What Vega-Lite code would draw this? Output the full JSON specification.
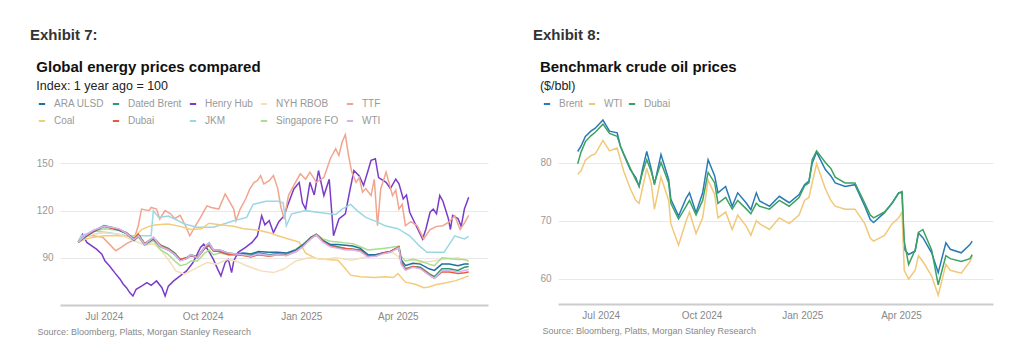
{
"$schema":"https://vega.github.io/schema/vega-lite/v6.json",
"background":"white",
"padding":{"left":30,"top":28,"right":5,"bottom":5},
"config":{"font":"Liberation Sans","view":{"stroke":null}},
"resolve":{"scale":{"color":"independent","x":"independent","y":"independent"},"legend":{"color":"independent"},"axis":{"x":"independent","y":"independent"}},
"datasets":{
"left":[
{"d":"2024-06-07","s":"Henry Hub","v":100},{"d":"2024-06-11","s":"Henry Hub","v":105},{"d":"2024-06-15","s":"Henry Hub","v":99.8},{"d":"2024-06-24","s":"Henry Hub","v":95.5},{"d":"2024-06-29","s":"Henry Hub","v":92.3},{"d":"2024-07-02","s":"Henry Hub","v":88},{"d":"2024-07-06","s":"Henry Hub","v":85},{"d":"2024-07-11","s":"Henry Hub","v":80.6},{"d":"2024-07-16","s":"Henry Hub","v":76.4},{"d":"2024-07-19","s":"Henry Hub","v":73.2},{"d":"2024-07-22","s":"Henry Hub","v":71},{"d":"2024-07-25","s":"Henry Hub","v":67.9},{"d":"2024-07-28","s":"Henry Hub","v":65.7},{"d":"2024-07-31","s":"Henry Hub","v":70},{"d":"2024-08-05","s":"Henry Hub","v":72},{"d":"2024-08-10","s":"Henry Hub","v":74.2},{"d":"2024-08-14","s":"Henry Hub","v":72.5},{"d":"2024-08-19","s":"Henry Hub","v":75.3},{"d":"2024-08-24","s":"Henry Hub","v":71},{"d":"2024-08-27","s":"Henry Hub","v":65.7},{"d":"2024-08-30","s":"Henry Hub","v":72},{"d":"2024-09-04","s":"Henry Hub","v":75.3},{"d":"2024-09-10","s":"Henry Hub","v":78.5},{"d":"2024-09-16","s":"Henry Hub","v":81.7},{"d":"2024-09-22","s":"Henry Hub","v":87},{"d":"2024-09-29","s":"Henry Hub","v":96.6},{"d":"2024-10-02","s":"Henry Hub","v":98.7},{"d":"2024-10-06","s":"Henry Hub","v":95},{"d":"2024-10-11","s":"Henry Hub","v":89},{"d":"2024-10-15","s":"Henry Hub","v":82.8},{"d":"2024-10-18","s":"Henry Hub","v":78.5},{"d":"2024-10-22","s":"Henry Hub","v":87},{"d":"2024-10-25","s":"Henry Hub","v":89},{"d":"2024-10-28","s":"Henry Hub","v":80.6},{"d":"2024-10-30","s":"Henry Hub","v":88},{"d":"2024-11-03","s":"Henry Hub","v":93.5},{"d":"2024-11-10","s":"Henry Hub","v":96.6},{"d":"2024-11-16","s":"Henry Hub","v":99.8},{"d":"2024-11-21","s":"Henry Hub","v":104},{"d":"2024-11-25","s":"Henry Hub","v":116.8},{"d":"2024-11-28","s":"Henry Hub","v":111},{"d":"2024-12-02","s":"Henry Hub","v":113.6},{"d":"2024-12-06","s":"Henry Hub","v":106},{"d":"2024-12-11","s":"Henry Hub","v":113},{"d":"2024-12-16","s":"Henry Hub","v":116.8},{"d":"2024-12-19","s":"Henry Hub","v":123},{"d":"2024-12-25","s":"Henry Hub","v":133.8},{"d":"2024-12-30","s":"Henry Hub","v":137.9},{"d":"2025-01-02","s":"Henry Hub","v":125},{"d":"2025-01-05","s":"Henry Hub","v":121},{"d":"2025-01-09","s":"Henry Hub","v":138},{"d":"2025-01-13","s":"Henry Hub","v":130},{"d":"2025-01-17","s":"Henry Hub","v":145.5},{"d":"2025-01-22","s":"Henry Hub","v":129.6},{"d":"2025-01-27","s":"Henry Hub","v":140},{"d":"2025-01-31","s":"Henry Hub","v":104},{"d":"2025-02-05","s":"Henry Hub","v":114.7},{"d":"2025-02-11","s":"Henry Hub","v":118},{"d":"2025-02-15","s":"Henry Hub","v":132},{"d":"2025-02-19","s":"Henry Hub","v":145.5},{"d":"2025-02-24","s":"Henry Hub","v":142},{"d":"2025-02-28","s":"Henry Hub","v":136},{"d":"2025-03-04","s":"Henry Hub","v":145},{"d":"2025-03-07","s":"Henry Hub","v":152},{"d":"2025-03-11","s":"Henry Hub","v":153},{"d":"2025-03-14","s":"Henry Hub","v":141},{"d":"2025-03-21","s":"Henry Hub","v":138},{"d":"2025-03-25","s":"Henry Hub","v":134},{"d":"2025-03-30","s":"Henry Hub","v":140},{"d":"2025-04-02","s":"Henry Hub","v":137},{"d":"2025-04-06","s":"Henry Hub","v":127.4},{"d":"2025-04-09","s":"Henry Hub","v":130},{"d":"2025-04-12","s":"Henry Hub","v":119},{"d":"2025-04-18","s":"Henry Hub","v":110.4},{"d":"2025-04-24","s":"Henry Hub","v":102},{"d":"2025-04-27","s":"Henry Hub","v":108},{"d":"2025-05-01","s":"Henry Hub","v":119},{"d":"2025-05-04","s":"Henry Hub","v":121},{"d":"2025-05-07","s":"Henry Hub","v":118},{"d":"2025-05-10","s":"Henry Hub","v":129.6},{"d":"2025-05-13","s":"Henry Hub","v":126},{"d":"2025-05-18","s":"Henry Hub","v":115},{"d":"2025-05-20","s":"Henry Hub","v":108},{"d":"2025-05-22","s":"Henry Hub","v":117},{"d":"2025-05-27","s":"Henry Hub","v":115},{"d":"2025-05-30","s":"Henry Hub","v":110},{"d":"2025-06-02","s":"Henry Hub","v":121},{"d":"2025-06-06","s":"Henry Hub","v":128.5},
{"d":"2024-06-07","s":"TTF","v":100},{"d":"2024-06-10","s":"TTF","v":104},{"d":"2024-06-21","s":"TTF","v":104},{"d":"2024-06-30","s":"TTF","v":103},{"d":"2024-07-06","s":"TTF","v":98.7},{"d":"2024-07-12","s":"TTF","v":94.5},{"d":"2024-07-17","s":"TTF","v":96.6},{"d":"2024-07-22","s":"TTF","v":99},{"d":"2024-07-27","s":"TTF","v":100.8},{"d":"2024-07-30","s":"TTF","v":104},{"d":"2024-08-02","s":"TTF","v":110.4},{"d":"2024-08-05","s":"TTF","v":121},{"d":"2024-08-12","s":"TTF","v":120},{"d":"2024-08-14","s":"TTF","v":122},{"d":"2024-08-19","s":"TTF","v":121},{"d":"2024-08-22","s":"TTF","v":114.7},{"d":"2024-08-27","s":"TTF","v":120},{"d":"2024-09-01","s":"TTF","v":118},{"d":"2024-09-05","s":"TTF","v":115},{"d":"2024-09-10","s":"TTF","v":117},{"d":"2024-09-15","s":"TTF","v":110.4},{"d":"2024-09-19","s":"TTF","v":104},{"d":"2024-09-24","s":"TTF","v":110},{"d":"2024-09-29","s":"TTF","v":115.7},{"d":"2024-10-05","s":"TTF","v":123},{"d":"2024-10-09","s":"TTF","v":122},{"d":"2024-10-16","s":"TTF","v":121},{"d":"2024-10-22","s":"TTF","v":130.6},{"d":"2024-10-25","s":"TTF","v":127},{"d":"2024-10-30","s":"TTF","v":121},{"d":"2024-11-01","s":"TTF","v":113.6},{"d":"2024-11-05","s":"TTF","v":121},{"d":"2024-11-10","s":"TTF","v":127.4},{"d":"2024-11-14","s":"TTF","v":133.8},{"d":"2024-11-18","s":"TTF","v":138},{"d":"2024-11-21","s":"TTF","v":139},{"d":"2024-11-24","s":"TTF","v":142.3},{"d":"2024-11-27","s":"TTF","v":137},{"d":"2024-12-02","s":"TTF","v":139},{"d":"2024-12-06","s":"TTF","v":142.3},{"d":"2024-12-10","s":"TTF","v":134},{"d":"2024-12-13","s":"TTF","v":122},{"d":"2024-12-16","s":"TTF","v":114.7},{"d":"2024-12-20","s":"TTF","v":129.6},{"d":"2024-12-25","s":"TTF","v":136},{"d":"2024-12-31","s":"TTF","v":143.4},{"d":"2025-01-05","s":"TTF","v":140},{"d":"2025-01-09","s":"TTF","v":144.5},{"d":"2025-01-15","s":"TTF","v":138},{"d":"2025-01-22","s":"TTF","v":141},{"d":"2025-01-28","s":"TTF","v":153},{"d":"2025-02-02","s":"TTF","v":159.4},{"d":"2025-02-05","s":"TTF","v":155},{"d":"2025-02-08","s":"TTF","v":163.6},{"d":"2025-02-11","s":"TTF","v":168.3},{"d":"2025-02-14","s":"TTF","v":155},{"d":"2025-02-17","s":"TTF","v":144.5},{"d":"2025-02-21","s":"TTF","v":138},{"d":"2025-02-24","s":"TTF","v":141},{"d":"2025-02-27","s":"TTF","v":131.7},{"d":"2025-03-02","s":"TTF","v":134},{"d":"2025-03-07","s":"TTF","v":129.6},{"d":"2025-03-10","s":"TTF","v":140},{"d":"2025-03-13","s":"TTF","v":110.4},{"d":"2025-03-16","s":"TTF","v":133.8},{"d":"2025-03-21","s":"TTF","v":144.5},{"d":"2025-03-24","s":"TTF","v":137},{"d":"2025-03-27","s":"TTF","v":129.6},{"d":"2025-03-30","s":"TTF","v":133},{"d":"2025-04-02","s":"TTF","v":121},{"d":"2025-04-05","s":"TTF","v":124},{"d":"2025-04-08","s":"TTF","v":110.4},{"d":"2025-04-13","s":"TTF","v":113},{"d":"2025-04-19","s":"TTF","v":110.4},{"d":"2025-04-25","s":"TTF","v":102},{"d":"2025-05-01","s":"TTF","v":108},{"d":"2025-05-07","s":"TTF","v":110},{"d":"2025-05-13","s":"TTF","v":110.4},{"d":"2025-05-19","s":"TTF","v":113},{"d":"2025-05-24","s":"TTF","v":116.8},{"d":"2025-05-29","s":"TTF","v":108},{"d":"2025-06-02","s":"TTF","v":112},{"d":"2025-06-06","s":"TTF","v":117},
{"d":"2024-06-07","s":"JKM","v":100},{"d":"2024-06-10","s":"JKM","v":104},{"d":"2024-06-21","s":"JKM","v":107},{"d":"2024-07-06","s":"JKM","v":106},{"d":"2024-07-22","s":"JKM","v":104},{"d":"2024-08-08","s":"JKM","v":104},{"d":"2024-08-14","s":"JKM","v":104},{"d":"2024-08-16","s":"JKM","v":120},{"d":"2024-08-21","s":"JKM","v":115.7},{"d":"2024-08-30","s":"JKM","v":116.5},{"d":"2024-09-05","s":"JKM","v":114.7},{"d":"2024-09-14","s":"JKM","v":111.5},{"d":"2024-09-26","s":"JKM","v":109.4},{"d":"2024-10-11","s":"JKM","v":109.5},{"d":"2024-10-30","s":"JKM","v":113.6},{"d":"2024-11-11","s":"JKM","v":115.7},{"d":"2024-11-17","s":"JKM","v":124},{"d":"2024-11-29","s":"JKM","v":126},{"d":"2024-12-10","s":"JKM","v":126},{"d":"2024-12-15","s":"JKM","v":125},{"d":"2024-12-18","s":"JKM","v":110.4},{"d":"2024-12-23","s":"JKM","v":118},{"d":"2025-01-05","s":"JKM","v":120},{"d":"2025-01-21","s":"JKM","v":118.5},{"d":"2025-02-02","s":"JKM","v":117.5},{"d":"2025-02-08","s":"JKM","v":121},{"d":"2025-02-16","s":"JKM","v":124},{"d":"2025-02-22","s":"JKM","v":120},{"d":"2025-03-02","s":"JKM","v":115.7},{"d":"2025-03-12","s":"JKM","v":113},{"d":"2025-03-20","s":"JKM","v":110.4},{"d":"2025-04-01","s":"JKM","v":108.5},{"d":"2025-04-12","s":"JKM","v":104},{"d":"2025-04-21","s":"JKM","v":97.6},{"d":"2025-04-28","s":"JKM","v":93.5},{"d":"2025-05-14","s":"JKM","v":93.5},{"d":"2025-05-19","s":"JKM","v":98.7},{"d":"2025-05-24","s":"JKM","v":104},{"d":"2025-06-02","s":"JKM","v":102},{"d":"2025-06-06","s":"JKM","v":103.7},
{"d":"2024-06-07","s":"Coal","v":100},{"d":"2024-06-14","s":"Coal","v":102},{"d":"2024-06-21","s":"Coal","v":103},{"d":"2024-07-01","s":"Coal","v":104},{"d":"2024-07-15","s":"Coal","v":104},{"d":"2024-07-29","s":"Coal","v":103},{"d":"2024-08-05","s":"Coal","v":108},{"d":"2024-08-12","s":"Coal","v":110},{"d":"2024-08-19","s":"Coal","v":111},{"d":"2024-08-30","s":"Coal","v":111.5},{"d":"2024-09-10","s":"Coal","v":110},{"d":"2024-09-20","s":"Coal","v":108},{"d":"2024-09-30","s":"Coal","v":108.5},{"d":"2024-10-07","s":"Coal","v":112},{"d":"2024-10-17","s":"Coal","v":111},{"d":"2024-10-30","s":"Coal","v":110},{"d":"2024-11-08","s":"Coal","v":108.5},{"d":"2024-11-22","s":"Coal","v":107.5},{"d":"2024-12-02","s":"Coal","v":106},{"d":"2024-12-10","s":"Coal","v":104},{"d":"2024-12-20","s":"Coal","v":102},{"d":"2024-12-30","s":"Coal","v":100},{"d":"2025-01-05","s":"Coal","v":93},{"d":"2025-01-15","s":"Coal","v":89.5},{"d":"2025-01-25","s":"Coal","v":89},{"d":"2025-02-04","s":"Coal","v":88.5},{"d":"2025-02-10","s":"Coal","v":84},{"d":"2025-02-16","s":"Coal","v":79},{"d":"2025-02-25","s":"Coal","v":78},{"d":"2025-03-10","s":"Coal","v":77.5},{"d":"2025-03-20","s":"Coal","v":78},{"d":"2025-03-28","s":"Coal","v":77.5},{"d":"2025-04-01","s":"Coal","v":80},{"d":"2025-04-08","s":"Coal","v":74.5},{"d":"2025-04-18","s":"Coal","v":73},{"d":"2025-04-25","s":"Coal","v":71},{"d":"2025-04-30","s":"Coal","v":71.5},{"d":"2025-05-07","s":"Coal","v":73},{"d":"2025-05-15","s":"Coal","v":74},{"d":"2025-05-25","s":"Coal","v":75.5},{"d":"2025-06-06","s":"Coal","v":78.5},
{"d":"2024-06-07","s":"NYH RBOB","v":100},{"d":"2024-06-14","s":"NYH RBOB","v":103},{"d":"2024-06-21","s":"NYH RBOB","v":105},{"d":"2024-07-01","s":"NYH RBOB","v":106},{"d":"2024-07-15","s":"NYH RBOB","v":105},{"d":"2024-07-29","s":"NYH RBOB","v":101},{"d":"2024-08-08","s":"NYH RBOB","v":98},{"d":"2024-08-16","s":"NYH RBOB","v":99},{"d":"2024-08-23","s":"NYH RBOB","v":95},{"d":"2024-09-01","s":"NYH RBOB","v":87},{"d":"2024-09-06","s":"NYH RBOB","v":81.7},{"d":"2024-09-14","s":"NYH RBOB","v":79.6},{"d":"2024-09-23","s":"NYH RBOB","v":82.8},{"d":"2024-10-05","s":"NYH RBOB","v":87},{"d":"2024-10-14","s":"NYH RBOB","v":86},{"d":"2024-10-24","s":"NYH RBOB","v":89},{"d":"2024-11-01","s":"NYH RBOB","v":88},{"d":"2024-11-11","s":"NYH RBOB","v":85},{"d":"2024-11-24","s":"NYH RBOB","v":81.7},{"d":"2024-12-06","s":"NYH RBOB","v":80.6},{"d":"2024-12-16","s":"NYH RBOB","v":83},{"d":"2024-12-27","s":"NYH RBOB","v":88},{"d":"2025-01-09","s":"NYH RBOB","v":90.2},{"d":"2025-01-21","s":"NYH RBOB","v":89},{"d":"2025-02-02","s":"NYH RBOB","v":90},{"d":"2025-02-17","s":"NYH RBOB","v":88.5},{"d":"2025-02-28","s":"NYH RBOB","v":90.2},{"d":"2025-03-14","s":"NYH RBOB","v":92.3},{"d":"2025-03-27","s":"NYH RBOB","v":93.4},{"d":"2025-04-01","s":"NYH RBOB","v":91},{"d":"2025-04-06","s":"NYH RBOB","v":85.5},{"d":"2025-04-18","s":"NYH RBOB","v":86.5},{"d":"2025-05-01","s":"NYH RBOB","v":87.6},{"d":"2025-05-12","s":"NYH RBOB","v":89},{"d":"2025-05-27","s":"NYH RBOB","v":90},{"d":"2025-06-06","s":"NYH RBOB","v":88},
{"d":"2024-06-07","s":"Singapore FO","v":100},{"d":"2024-06-14","s":"Singapore FO","v":103.5},{"d":"2024-06-21","s":"Singapore FO","v":106.5},{"d":"2024-07-01","s":"Singapore FO","v":108.5},{"d":"2024-07-08","s":"Singapore FO","v":108},{"d":"2024-07-15","s":"Singapore FO","v":107.5},{"d":"2024-07-22","s":"Singapore FO","v":105.5},{"d":"2024-07-29","s":"Singapore FO","v":101},{"d":"2024-08-02","s":"Singapore FO","v":103},{"d":"2024-08-08","s":"Singapore FO","v":98},{"d":"2024-08-16","s":"Singapore FO","v":101},{"d":"2024-08-23","s":"Singapore FO","v":95},{"d":"2024-08-30","s":"Singapore FO","v":92},{"d":"2024-09-05","s":"Singapore FO","v":88},{"d":"2024-09-10","s":"Singapore FO","v":85},{"d":"2024-09-16","s":"Singapore FO","v":86},{"d":"2024-09-20","s":"Singapore FO","v":88},{"d":"2024-09-26","s":"Singapore FO","v":88},{"d":"2024-10-03","s":"Singapore FO","v":93},{"d":"2024-10-07","s":"Singapore FO","v":95},{"d":"2024-10-11","s":"Singapore FO","v":92},{"d":"2024-10-17","s":"Singapore FO","v":93},{"d":"2024-10-25","s":"Singapore FO","v":92},{"d":"2024-11-01","s":"Singapore FO","v":92},{"d":"2024-11-08","s":"Singapore FO","v":92},{"d":"2024-11-15","s":"Singapore FO","v":91.5},{"d":"2024-11-22","s":"Singapore FO","v":93},{"d":"2024-12-02","s":"Singapore FO","v":92},{"d":"2024-12-10","s":"Singapore FO","v":93},{"d":"2024-12-18","s":"Singapore FO","v":93},{"d":"2024-12-27","s":"Singapore FO","v":95.5},{"d":"2025-01-03","s":"Singapore FO","v":99},{"d":"2025-01-10","s":"Singapore FO","v":103},{"d":"2025-01-15","s":"Singapore FO","v":105},{"d":"2025-01-21","s":"Singapore FO","v":102},{"d":"2025-01-28","s":"Singapore FO","v":100.5},{"d":"2025-02-04","s":"Singapore FO","v":100},{"d":"2025-02-11","s":"Singapore FO","v":99.5},{"d":"2025-02-18","s":"Singapore FO","v":99},{"d":"2025-02-25","s":"Singapore FO","v":97},{"d":"2025-03-04","s":"Singapore FO","v":95},{"d":"2025-03-11","s":"Singapore FO","v":95.5},{"d":"2025-03-18","s":"Singapore FO","v":96},{"d":"2025-03-25","s":"Singapore FO","v":96.5},{"d":"2025-04-02","s":"Singapore FO","v":97.5},{"d":"2025-04-04","s":"Singapore FO","v":91},{"d":"2025-04-08","s":"Singapore FO","v":88},{"d":"2025-04-15","s":"Singapore FO","v":89},{"d":"2025-04-22","s":"Singapore FO","v":88},{"d":"2025-04-30","s":"Singapore FO","v":86},{"d":"2025-05-05","s":"Singapore FO","v":85},{"d":"2025-05-12","s":"Singapore FO","v":90},{"d":"2025-05-19","s":"Singapore FO","v":89.5},{"d":"2025-05-27","s":"Singapore FO","v":89},{"d":"2025-06-02","s":"Singapore FO","v":89},{"d":"2025-06-06","s":"Singapore FO","v":88},
{"d":"2024-06-07","s":"Dated Brent","v":100},{"d":"2024-06-14","s":"Dated Brent","v":104},{"d":"2024-06-21","s":"Dated Brent","v":107},{"d":"2024-07-01","s":"Dated Brent","v":110.5},{"d":"2024-07-08","s":"Dated Brent","v":109.5},{"d":"2024-07-15","s":"Dated Brent","v":108},{"d":"2024-07-22","s":"Dated Brent","v":106},{"d":"2024-07-29","s":"Dated Brent","v":102},{"d":"2024-08-02","s":"Dated Brent","v":105},{"d":"2024-08-08","s":"Dated Brent","v":99},{"d":"2024-08-16","s":"Dated Brent","v":103},{"d":"2024-08-23","s":"Dated Brent","v":98},{"d":"2024-08-30","s":"Dated Brent","v":96},{"d":"2024-09-05","s":"Dated Brent","v":93},{"d":"2024-09-10","s":"Dated Brent","v":89},{"d":"2024-09-16","s":"Dated Brent","v":90},{"d":"2024-09-20","s":"Dated Brent","v":92},{"d":"2024-09-26","s":"Dated Brent","v":90.5},{"d":"2024-10-03","s":"Dated Brent","v":97},{"d":"2024-10-07","s":"Dated Brent","v":99.5},{"d":"2024-10-11","s":"Dated Brent","v":95},{"d":"2024-10-17","s":"Dated Brent","v":95},{"d":"2024-10-25","s":"Dated Brent","v":93},{"d":"2024-11-01","s":"Dated Brent","v":92.5},{"d":"2024-11-08","s":"Dated Brent","v":92},{"d":"2024-11-15","s":"Dated Brent","v":91.5},{"d":"2024-11-22","s":"Dated Brent","v":93},{"d":"2024-12-02","s":"Dated Brent","v":92},{"d":"2024-12-10","s":"Dated Brent","v":92.5},{"d":"2024-12-18","s":"Dated Brent","v":92},{"d":"2024-12-27","s":"Dated Brent","v":94.5},{"d":"2025-01-03","s":"Dated Brent","v":98},{"d":"2025-01-10","s":"Dated Brent","v":103},{"d":"2025-01-15","s":"Dated Brent","v":105},{"d":"2025-01-21","s":"Dated Brent","v":101},{"d":"2025-01-28","s":"Dated Brent","v":98},{"d":"2025-02-04","s":"Dated Brent","v":97},{"d":"2025-02-11","s":"Dated Brent","v":96},{"d":"2025-02-18","s":"Dated Brent","v":95.5},{"d":"2025-02-25","s":"Dated Brent","v":95},{"d":"2025-03-04","s":"Dated Brent","v":91},{"d":"2025-03-11","s":"Dated Brent","v":91.5},{"d":"2025-03-18","s":"Dated Brent","v":93},{"d":"2025-03-25","s":"Dated Brent","v":94},{"d":"2025-04-02","s":"Dated Brent","v":97},{"d":"2025-04-04","s":"Dated Brent","v":87},{"d":"2025-04-08","s":"Dated Brent","v":83},{"d":"2025-04-15","s":"Dated Brent","v":84.5},{"d":"2025-04-22","s":"Dated Brent","v":84},{"d":"2025-04-30","s":"Dated Brent","v":80},{"d":"2025-05-05","s":"Dated Brent","v":78},{"d":"2025-05-12","s":"Dated Brent","v":83},{"d":"2025-05-19","s":"Dated Brent","v":83},{"d":"2025-05-27","s":"Dated Brent","v":82},{"d":"2025-06-02","s":"Dated Brent","v":84},{"d":"2025-06-06","s":"Dated Brent","v":84.5},
{"d":"2024-06-07","s":"ARA ULSD","v":100},{"d":"2024-06-14","s":"ARA ULSD","v":103.5},{"d":"2024-06-21","s":"ARA ULSD","v":106.5},{"d":"2024-07-01","s":"ARA ULSD","v":110},{"d":"2024-07-08","s":"ARA ULSD","v":109},{"d":"2024-07-15","s":"ARA ULSD","v":107.5},{"d":"2024-07-22","s":"ARA ULSD","v":105.5},{"d":"2024-07-29","s":"ARA ULSD","v":101},{"d":"2024-08-02","s":"ARA ULSD","v":104},{"d":"2024-08-08","s":"ARA ULSD","v":98.5},{"d":"2024-08-16","s":"ARA ULSD","v":102},{"d":"2024-08-23","s":"ARA ULSD","v":97},{"d":"2024-08-30","s":"ARA ULSD","v":95},{"d":"2024-09-05","s":"ARA ULSD","v":92},{"d":"2024-09-10","s":"ARA ULSD","v":88.5},{"d":"2024-09-16","s":"ARA ULSD","v":89.5},{"d":"2024-09-20","s":"ARA ULSD","v":91.5},{"d":"2024-09-26","s":"ARA ULSD","v":90},{"d":"2024-10-03","s":"ARA ULSD","v":96},{"d":"2024-10-07","s":"ARA ULSD","v":98},{"d":"2024-10-11","s":"ARA ULSD","v":94.5},{"d":"2024-10-17","s":"ARA ULSD","v":94},{"d":"2024-10-25","s":"ARA ULSD","v":92.5},{"d":"2024-11-01","s":"ARA ULSD","v":92.5},{"d":"2024-11-08","s":"ARA ULSD","v":93},{"d":"2024-11-15","s":"ARA ULSD","v":92.5},{"d":"2024-11-22","s":"ARA ULSD","v":94},{"d":"2024-12-02","s":"ARA ULSD","v":93.5},{"d":"2024-12-10","s":"ARA ULSD","v":93.5},{"d":"2024-12-18","s":"ARA ULSD","v":93},{"d":"2024-12-27","s":"ARA ULSD","v":95},{"d":"2025-01-03","s":"ARA ULSD","v":98.5},{"d":"2025-01-10","s":"ARA ULSD","v":103},{"d":"2025-01-15","s":"ARA ULSD","v":104.5},{"d":"2025-01-21","s":"ARA ULSD","v":101},{"d":"2025-01-28","s":"ARA ULSD","v":98.5},{"d":"2025-02-04","s":"ARA ULSD","v":98.5},{"d":"2025-02-11","s":"ARA ULSD","v":98},{"d":"2025-02-18","s":"ARA ULSD","v":97.5},{"d":"2025-02-25","s":"ARA ULSD","v":96},{"d":"2025-03-04","s":"ARA ULSD","v":92},{"d":"2025-03-11","s":"ARA ULSD","v":92},{"d":"2025-03-18","s":"ARA ULSD","v":93},{"d":"2025-03-25","s":"ARA ULSD","v":94},{"d":"2025-04-02","s":"ARA ULSD","v":96.5},{"d":"2025-04-04","s":"ARA ULSD","v":89},{"d":"2025-04-08","s":"ARA ULSD","v":85},{"d":"2025-04-15","s":"ARA ULSD","v":86.5},{"d":"2025-04-22","s":"ARA ULSD","v":86},{"d":"2025-04-30","s":"ARA ULSD","v":83},{"d":"2025-05-05","s":"ARA ULSD","v":82},{"d":"2025-05-12","s":"ARA ULSD","v":86},{"d":"2025-05-19","s":"ARA ULSD","v":86},{"d":"2025-05-27","s":"ARA ULSD","v":85},{"d":"2025-06-02","s":"ARA ULSD","v":86},{"d":"2025-06-06","s":"ARA ULSD","v":86},
{"d":"2024-06-07","s":"Dubai","v":100},{"d":"2024-06-14","s":"Dubai","v":104},{"d":"2024-06-21","s":"Dubai","v":107},{"d":"2024-07-01","s":"Dubai","v":110},{"d":"2024-07-08","s":"Dubai","v":109},{"d":"2024-07-15","s":"Dubai","v":108},{"d":"2024-07-22","s":"Dubai","v":105.5},{"d":"2024-07-29","s":"Dubai","v":101.5},{"d":"2024-08-02","s":"Dubai","v":104.5},{"d":"2024-08-08","s":"Dubai","v":99},{"d":"2024-08-16","s":"Dubai","v":102.5},{"d":"2024-08-23","s":"Dubai","v":97.5},{"d":"2024-08-30","s":"Dubai","v":95.5},{"d":"2024-09-05","s":"Dubai","v":92.5},{"d":"2024-09-10","s":"Dubai","v":89},{"d":"2024-09-16","s":"Dubai","v":90},{"d":"2024-09-20","s":"Dubai","v":91.5},{"d":"2024-09-26","s":"Dubai","v":90.5},{"d":"2024-10-03","s":"Dubai","v":96},{"d":"2024-10-07","s":"Dubai","v":98},{"d":"2024-10-11","s":"Dubai","v":94.5},{"d":"2024-10-17","s":"Dubai","v":94},{"d":"2024-10-25","s":"Dubai","v":92},{"d":"2024-11-01","s":"Dubai","v":92},{"d":"2024-11-08","s":"Dubai","v":91.5},{"d":"2024-11-15","s":"Dubai","v":90.5},{"d":"2024-11-22","s":"Dubai","v":92},{"d":"2024-12-02","s":"Dubai","v":91},{"d":"2024-12-10","s":"Dubai","v":92},{"d":"2024-12-18","s":"Dubai","v":91.5},{"d":"2024-12-27","s":"Dubai","v":94},{"d":"2025-01-03","s":"Dubai","v":97.5},{"d":"2025-01-10","s":"Dubai","v":102.5},{"d":"2025-01-15","s":"Dubai","v":104.5},{"d":"2025-01-21","s":"Dubai","v":100.5},{"d":"2025-01-28","s":"Dubai","v":97.5},{"d":"2025-02-04","s":"Dubai","v":96.5},{"d":"2025-02-11","s":"Dubai","v":96},{"d":"2025-02-18","s":"Dubai","v":95.5},{"d":"2025-02-25","s":"Dubai","v":94.5},{"d":"2025-03-04","s":"Dubai","v":91},{"d":"2025-03-11","s":"Dubai","v":91},{"d":"2025-03-18","s":"Dubai","v":93},{"d":"2025-03-25","s":"Dubai","v":94},{"d":"2025-04-02","s":"Dubai","v":97},{"d":"2025-04-04","s":"Dubai","v":87},{"d":"2025-04-08","s":"Dubai","v":82.5},{"d":"2025-04-15","s":"Dubai","v":84.5},{"d":"2025-04-22","s":"Dubai","v":83.5},{"d":"2025-04-30","s":"Dubai","v":79.5},{"d":"2025-05-05","s":"Dubai","v":77},{"d":"2025-05-12","s":"Dubai","v":81},{"d":"2025-05-19","s":"Dubai","v":81},{"d":"2025-05-27","s":"Dubai","v":80},{"d":"2025-06-02","s":"Dubai","v":80.5},{"d":"2025-06-06","s":"Dubai","v":81},
{"d":"2024-06-07","s":"WTI","v":100},{"d":"2024-06-14","s":"WTI","v":104.5},{"d":"2024-06-21","s":"WTI","v":107.5},{"d":"2024-07-01","s":"WTI","v":110},{"d":"2024-07-08","s":"WTI","v":109.5},{"d":"2024-07-15","s":"WTI","v":108.5},{"d":"2024-07-22","s":"WTI","v":105.5},{"d":"2024-07-29","s":"WTI","v":101.5},{"d":"2024-08-02","s":"WTI","v":104},{"d":"2024-08-08","s":"WTI","v":98.5},{"d":"2024-08-16","s":"WTI","v":103},{"d":"2024-08-23","s":"WTI","v":97},{"d":"2024-08-30","s":"WTI","v":95},{"d":"2024-09-05","s":"WTI","v":92},{"d":"2024-09-10","s":"WTI","v":88},{"d":"2024-09-16","s":"WTI","v":89.5},{"d":"2024-09-20","s":"WTI","v":92},{"d":"2024-09-26","s":"WTI","v":90},{"d":"2024-10-03","s":"WTI","v":97},{"d":"2024-10-07","s":"WTI","v":99.5},{"d":"2024-10-11","s":"WTI","v":95},{"d":"2024-10-17","s":"WTI","v":95},{"d":"2024-10-25","s":"WTI","v":93},{"d":"2024-11-01","s":"WTI","v":92.5},{"d":"2024-11-08","s":"WTI","v":92},{"d":"2024-11-15","s":"WTI","v":91},{"d":"2024-11-22","s":"WTI","v":92.5},{"d":"2024-12-02","s":"WTI","v":91.5},{"d":"2024-12-10","s":"WTI","v":92},{"d":"2024-12-18","s":"WTI","v":91.5},{"d":"2024-12-27","s":"WTI","v":94},{"d":"2025-01-03","s":"WTI","v":97.5},{"d":"2025-01-10","s":"WTI","v":102},{"d":"2025-01-15","s":"WTI","v":104.5},{"d":"2025-01-21","s":"WTI","v":100},{"d":"2025-01-28","s":"WTI","v":97},{"d":"2025-02-04","s":"WTI","v":96},{"d":"2025-02-11","s":"WTI","v":95},{"d":"2025-02-18","s":"WTI","v":95},{"d":"2025-02-25","s":"WTI","v":94},{"d":"2025-03-04","s":"WTI","v":90.5},{"d":"2025-03-11","s":"WTI","v":91},{"d":"2025-03-18","s":"WTI","v":92.5},{"d":"2025-03-25","s":"WTI","v":93.5},{"d":"2025-04-02","s":"WTI","v":96.5},{"d":"2025-04-04","s":"WTI","v":86},{"d":"2025-04-08","s":"WTI","v":82},{"d":"2025-04-15","s":"WTI","v":84},{"d":"2025-04-22","s":"WTI","v":83},{"d":"2025-04-30","s":"WTI","v":79},{"d":"2025-05-05","s":"WTI","v":77},{"d":"2025-05-12","s":"WTI","v":82},{"d":"2025-05-19","s":"WTI","v":82},{"d":"2025-05-27","s":"WTI","v":81},{"d":"2025-06-02","s":"WTI","v":82},{"d":"2025-06-06","s":"WTI","v":82.5}
],
"right":[
{"d":"2024-06-10","s":"Brent","v":81.9},{"d":"2024-06-13","s":"Brent","v":82.8},{"d":"2024-06-17","s":"Brent","v":84.5},{"d":"2024-06-22","s":"Brent","v":85.4},{"d":"2024-06-26","s":"Brent","v":85.9},{"d":"2024-07-03","s":"Brent","v":87.3},{"d":"2024-07-09","s":"Brent","v":85.4},{"d":"2024-07-16","s":"Brent","v":85.1},{"d":"2024-07-19","s":"Brent","v":82.8},{"d":"2024-07-22","s":"Brent","v":81.4},{"d":"2024-07-28","s":"Brent","v":78.8},{"d":"2024-08-02","s":"Brent","v":77.4},{"d":"2024-08-05","s":"Brent","v":75.9},{"d":"2024-08-08","s":"Brent","v":78.8},{"d":"2024-08-12","s":"Brent","v":81.9},{"d":"2024-08-16","s":"Brent","v":79.0},{"d":"2024-08-19","s":"Brent","v":76.2},{"d":"2024-08-25","s":"Brent","v":81.4},{"d":"2024-09-01","s":"Brent","v":77.1},{"d":"2024-09-03","s":"Brent","v":73.7},{"d":"2024-09-10","s":"Brent","v":70.8},{"d":"2024-09-17","s":"Brent","v":73.9},{"d":"2024-09-20","s":"Brent","v":74.8},{"d":"2024-09-26","s":"Brent","v":71.4},{"d":"2024-10-02","s":"Brent","v":74.8},{"d":"2024-10-07","s":"Brent","v":80.5},{"d":"2024-10-13","s":"Brent","v":77.7},{"d":"2024-10-16","s":"Brent","v":74.8},{"d":"2024-10-23","s":"Brent","v":75.9},{"d":"2024-10-29","s":"Brent","v":72.5},{"d":"2024-11-03","s":"Brent","v":74.8},{"d":"2024-11-11","s":"Brent","v":73.0},{"d":"2024-11-15","s":"Brent","v":71.9},{"d":"2024-11-20","s":"Brent","v":74.8},{"d":"2024-11-23","s":"Brent","v":73.4},{"d":"2024-12-02","s":"Brent","v":72.5},{"d":"2024-12-11","s":"Brent","v":74.2},{"d":"2024-12-20","s":"Brent","v":73.1},{"d":"2024-12-29","s":"Brent","v":74.5},{"d":"2025-01-03","s":"Brent","v":76.2},{"d":"2025-01-07","s":"Brent","v":76.8},{"d":"2025-01-10","s":"Brent","v":79.9},{"d":"2025-01-14","s":"Brent","v":81.8},{"d":"2025-01-22","s":"Brent","v":78.8},{"d":"2025-01-27","s":"Brent","v":77.7},{"d":"2025-01-31","s":"Brent","v":76.5},{"d":"2025-02-09","s":"Brent","v":75.9},{"d":"2025-02-18","s":"Brent","v":76.2},{"d":"2025-02-27","s":"Brent","v":72.5},{"d":"2025-03-04","s":"Brent","v":70.2},{"d":"2025-03-07","s":"Brent","v":69.7},{"d":"2025-03-17","s":"Brent","v":71.4},{"d":"2025-03-24","s":"Brent","v":73.1},{"d":"2025-03-30","s":"Brent","v":74.8},{"d":"2025-04-02","s":"Brent","v":74.8},{"d":"2025-04-03","s":"Brent","v":69.7},{"d":"2025-04-04","s":"Brent","v":65.1},{"d":"2025-04-08","s":"Brent","v":64.2},{"d":"2025-04-14","s":"Brent","v":64.8},{"d":"2025-04-17","s":"Brent","v":67.9},{"d":"2025-04-21","s":"Brent","v":67.1},{"d":"2025-04-29","s":"Brent","v":64.5},{"d":"2025-05-05","s":"Brent","v":61.1},{"d":"2025-05-12","s":"Brent","v":66.2},{"d":"2025-05-16","s":"Brent","v":65.1},{"d":"2025-05-26","s":"Brent","v":64.5},{"d":"2025-06-03","s":"Brent","v":65.9},{"d":"2025-06-05","s":"Brent","v":66.5},
{"d":"2024-06-10","s":"WTI","v":78.0},{"d":"2024-06-13","s":"WTI","v":78.6},{"d":"2024-06-17","s":"WTI","v":80.4},{"d":"2024-06-22","s":"WTI","v":81.2},{"d":"2024-06-26","s":"WTI","v":81.5},{"d":"2024-07-03","s":"WTI","v":83.8},{"d":"2024-07-09","s":"WTI","v":82.0},{"d":"2024-07-16","s":"WTI","v":82.5},{"d":"2024-07-19","s":"WTI","v":80.5},{"d":"2024-07-22","s":"WTI","v":78.5},{"d":"2024-07-28","s":"WTI","v":75.5},{"d":"2024-08-02","s":"WTI","v":73.5},{"d":"2024-08-05","s":"WTI","v":73.0},{"d":"2024-08-08","s":"WTI","v":75.5},{"d":"2024-08-12","s":"WTI","v":79.0},{"d":"2024-08-16","s":"WTI","v":76.5},{"d":"2024-08-19","s":"WTI","v":72.0},{"d":"2024-08-25","s":"WTI","v":77.5},{"d":"2024-09-01","s":"WTI","v":73.5},{"d":"2024-09-03","s":"WTI","v":69.5},{"d":"2024-09-10","s":"WTI","v":65.8},{"d":"2024-09-17","s":"WTI","v":70.0},{"d":"2024-09-20","s":"WTI","v":71.5},{"d":"2024-09-26","s":"WTI","v":67.8},{"d":"2024-10-02","s":"WTI","v":70.5},{"d":"2024-10-07","s":"WTI","v":77.0},{"d":"2024-10-13","s":"WTI","v":74.5},{"d":"2024-10-16","s":"WTI","v":70.5},{"d":"2024-10-23","s":"WTI","v":71.5},{"d":"2024-10-29","s":"WTI","v":68.5},{"d":"2024-11-03","s":"WTI","v":71.0},{"d":"2024-11-11","s":"WTI","v":69.0},{"d":"2024-11-15","s":"WTI","v":67.5},{"d":"2024-11-20","s":"WTI","v":70.0},{"d":"2024-11-23","s":"WTI","v":69.5},{"d":"2024-12-02","s":"WTI","v":68.5},{"d":"2024-12-11","s":"WTI","v":70.5},{"d":"2024-12-20","s":"WTI","v":69.5},{"d":"2024-12-29","s":"WTI","v":71.0},{"d":"2025-01-03","s":"WTI","v":73.5},{"d":"2025-01-07","s":"WTI","v":74.0},{"d":"2025-01-10","s":"WTI","v":76.5},{"d":"2025-01-14","s":"WTI","v":79.8},{"d":"2025-01-22","s":"WTI","v":75.5},{"d":"2025-01-27","s":"WTI","v":73.5},{"d":"2025-01-31","s":"WTI","v":72.5},{"d":"2025-02-09","s":"WTI","v":72.0},{"d":"2025-02-18","s":"WTI","v":72.0},{"d":"2025-02-27","s":"WTI","v":69.5},{"d":"2025-03-04","s":"WTI","v":67.0},{"d":"2025-03-07","s":"WTI","v":66.5},{"d":"2025-03-17","s":"WTI","v":67.5},{"d":"2025-03-24","s":"WTI","v":69.5},{"d":"2025-03-30","s":"WTI","v":70.5},{"d":"2025-04-02","s":"WTI","v":71.5},{"d":"2025-04-03","s":"WTI","v":66.5},{"d":"2025-04-04","s":"WTI","v":61.5},{"d":"2025-04-08","s":"WTI","v":60.0},{"d":"2025-04-14","s":"WTI","v":61.5},{"d":"2025-04-17","s":"WTI","v":64.0},{"d":"2025-04-21","s":"WTI","v":63.0},{"d":"2025-04-29","s":"WTI","v":60.5},{"d":"2025-05-05","s":"WTI","v":57.2},{"d":"2025-05-12","s":"WTI","v":62.5},{"d":"2025-05-16","s":"WTI","v":61.5},{"d":"2025-05-26","s":"WTI","v":61.0},{"d":"2025-06-03","s":"WTI","v":63.0},{"d":"2025-06-05","s":"WTI","v":64.0},
{"d":"2024-06-10","s":"Dubai","v":79.8},{"d":"2024-06-13","s":"Dubai","v":81.8},{"d":"2024-06-17","s":"Dubai","v":83.6},{"d":"2024-06-22","s":"Dubai","v":84.6},{"d":"2024-06-26","s":"Dubai","v":85.2},{"d":"2024-07-03","s":"Dubai","v":86.6},{"d":"2024-07-09","s":"Dubai","v":85.0},{"d":"2024-07-16","s":"Dubai","v":84.5},{"d":"2024-07-19","s":"Dubai","v":82.8},{"d":"2024-07-22","s":"Dubai","v":81.5},{"d":"2024-07-28","s":"Dubai","v":79.0},{"d":"2024-08-02","s":"Dubai","v":77.0},{"d":"2024-08-05","s":"Dubai","v":76.0},{"d":"2024-08-08","s":"Dubai","v":78.2},{"d":"2024-08-12","s":"Dubai","v":80.5},{"d":"2024-08-16","s":"Dubai","v":78.5},{"d":"2024-08-19","s":"Dubai","v":76.5},{"d":"2024-08-25","s":"Dubai","v":80.0},{"d":"2024-09-01","s":"Dubai","v":76.5},{"d":"2024-09-03","s":"Dubai","v":73.0},{"d":"2024-09-10","s":"Dubai","v":70.3},{"d":"2024-09-17","s":"Dubai","v":72.5},{"d":"2024-09-20","s":"Dubai","v":73.5},{"d":"2024-09-26","s":"Dubai","v":71.0},{"d":"2024-10-02","s":"Dubai","v":73.5},{"d":"2024-10-07","s":"Dubai","v":78.3},{"d":"2024-10-13","s":"Dubai","v":76.5},{"d":"2024-10-16","s":"Dubai","v":73.0},{"d":"2024-10-23","s":"Dubai","v":74.0},{"d":"2024-10-29","s":"Dubai","v":72.0},{"d":"2024-11-03","s":"Dubai","v":73.5},{"d":"2024-11-11","s":"Dubai","v":72.0},{"d":"2024-11-15","s":"Dubai","v":71.2},{"d":"2024-11-20","s":"Dubai","v":73.0},{"d":"2024-11-23","s":"Dubai","v":72.5},{"d":"2024-12-02","s":"Dubai","v":72.0},{"d":"2024-12-11","s":"Dubai","v":73.5},{"d":"2024-12-20","s":"Dubai","v":72.5},{"d":"2024-12-29","s":"Dubai","v":74.0},{"d":"2025-01-03","s":"Dubai","v":76.0},{"d":"2025-01-07","s":"Dubai","v":76.5},{"d":"2025-01-10","s":"Dubai","v":80.5},{"d":"2025-01-14","s":"Dubai","v":82.0},{"d":"2025-01-22","s":"Dubai","v":80.0},{"d":"2025-01-27","s":"Dubai","v":79.0},{"d":"2025-01-31","s":"Dubai","v":77.5},{"d":"2025-02-09","s":"Dubai","v":76.5},{"d":"2025-02-18","s":"Dubai","v":76.5},{"d":"2025-02-27","s":"Dubai","v":73.0},{"d":"2025-03-04","s":"Dubai","v":71.0},{"d":"2025-03-07","s":"Dubai","v":70.5},{"d":"2025-03-17","s":"Dubai","v":71.5},{"d":"2025-03-24","s":"Dubai","v":73.0},{"d":"2025-03-30","s":"Dubai","v":74.8},{"d":"2025-04-02","s":"Dubai","v":75.0},{"d":"2025-04-03","s":"Dubai","v":70.5},{"d":"2025-04-04","s":"Dubai","v":66.5},{"d":"2025-04-08","s":"Dubai","v":62.5},{"d":"2025-04-14","s":"Dubai","v":65.0},{"d":"2025-04-17","s":"Dubai","v":68.0},{"d":"2025-04-21","s":"Dubai","v":68.5},{"d":"2025-04-29","s":"Dubai","v":65.0},{"d":"2025-05-05","s":"Dubai","v":59.0},{"d":"2025-05-12","s":"Dubai","v":64.0},{"d":"2025-05-16","s":"Dubai","v":63.5},{"d":"2025-05-26","s":"Dubai","v":63.0},{"d":"2025-06-03","s":"Dubai","v":63.5},{"d":"2025-06-05","s":"Dubai","v":64.2}
]
},
"spacing":45,
"hconcat":[
{
"spacing":15,
"resolve":{"scale":{"color":"independent"},"legend":{"color":"independent"}},
"vconcat":[
{"width":428,"height":1,"data":{"values":[]},"mark":"point",
"title":{"text":"Exhibit 7:","anchor":"start","fontSize":15,"fontWeight":"bold","color":"#333333","offset":0,"dx":-30}},
{
"width":428,"height":173,
"title":{"text":"Global energy prices compared","subtitle":"Index: 1 year ago = 100","anchor":"start","fontSize":15,"fontWeight":"bold","color":"#111111","subtitleFontSize":12.5,"subtitleColor":"#222222","subtitlePadding":5,"offset":7},
"data":{"name":"left"},
"mark":{"type":"line","strokeWidth":1.5},
"encoding":{
"x":{"field":"d","type":"temporal","scale":{"domain":["2024-05-21","2025-06-24"]},
"axis":{"values":[{"year":2024,"month":7,"date":1},{"year":2024,"month":10,"date":1},{"year":2025,"month":1,"date":1},{"year":2025,"month":4,"date":1}],"format":"%b %Y","labelColor":"#888888","labelFontSize":10,"ticks":false,"tickSize":0,"labelPadding":6,"domainColor":"#cccccc","domainWidth":2,"grid":false,
"title":"Source: Bloomberg, Platts, Morgan Stanley Research","titleFontSize":9,"titleColor":"#888888","titleFontWeight":"normal","titleAnchor":"start","titleAlign":"left","titleX":-23,"titleY":29,"titleBaseline":"alphabetic"}},
"y":{"field":"v","type":"quantitative","scale":{"domain":[60,170],"nice":false,"zero":false},
"axis":{"values":[90,120,150],"title":null,"domain":false,"ticks":false,"tickSize":0,"labelColor":"#999999","labelFontSize":10,"labelPadding":7,"gridColor":"#e8e8e8"}},
"color":{"field":"s","type":"nominal",
"scale":{"domain":["ARA ULSD","Dated Brent","Henry Hub","NYH RBOB","TTF","Coal","Dubai","JKM","Singapore FO","WTI"],
"range":["#1f6fa3","#2f9a6a","#7b3dc9","#f5dfb8","#f1a58e","#f3cc7a","#ea5a3e","#9ad8e6","#a9dd8f","#d3b5f2"]},
"legend":{"orient":"none","legendX":-23,"legendY":-33,"direction":"horizontal","columns":5,"title":null,"symbolType":"stroke","symbolStrokeWidth":2,"symbolSize":40,"labelFontSize":10,"labelColor":"#999999","labelOffset":7,"columnPadding":3,"rowPadding":7}}
}
}]
},
{
"spacing":15,
"resolve":{"scale":{"color":"independent"},"legend":{"color":"independent"}},
"vconcat":[
{"width":435,"height":1,"data":{"values":[]},"mark":"point",
"title":{"text":"Exhibit 8:","anchor":"start","fontSize":15,"fontWeight":"bold","color":"#333333","offset":0,"dx":-25}},
{
"width":435,"height":188,
"title":{"text":"Benchmark crude oil prices","subtitle":"($/bbl)","anchor":"start","fontSize":15,"fontWeight":"bold","color":"#111111","subtitleFontSize":12.5,"subtitleColor":"#222222","subtitlePadding":5,"offset":7},
"data":{"name":"right"},
"mark":{"type":"line","strokeWidth":1.5},
"encoding":{
"x":{"field":"d","type":"temporal","scale":{"domain":["2024-05-23","2025-06-24"]},
"axis":{"values":[{"year":2024,"month":7,"date":1},{"year":2024,"month":10,"date":1},{"year":2025,"month":1,"date":1},{"year":2025,"month":4,"date":1}],"format":"%b %Y","labelColor":"#888888","labelFontSize":10,"ticks":false,"tickSize":0,"labelPadding":6,"domainColor":"#cccccc","domainWidth":2,"grid":false,
"title":"Source: Bloomberg, Platts, Morgan Stanley Research","titleFontSize":9,"titleColor":"#888888","titleFontWeight":"normal","titleAnchor":"start","titleAlign":"left","titleX":-16,"titleY":29,"titleBaseline":"alphabetic"}},
"y":{"field":"v","type":"quantitative","scale":{"domain":[55.7,88],"nice":false,"zero":false},
"axis":{"values":[60,70,80],"title":null,"domain":false,"ticks":false,"tickSize":0,"labelColor":"#999999","labelFontSize":10,"labelPadding":7,"gridColor":"#e8e8e8"}},
"color":{"field":"s","type":"nominal",
"scale":{"domain":["Brent","WTI","Dubai"],"range":["#2a7ab8","#f2c879","#3ba35f"]},
"legend":{"orient":"none","legendX":-16,"legendY":-17,"direction":"horizontal","title":null,"symbolType":"stroke","symbolStrokeWidth":2,"symbolSize":40,"labelFontSize":10,"labelColor":"#999999","labelOffset":7,"columnPadding":1}}
}
}]
}
]
}
